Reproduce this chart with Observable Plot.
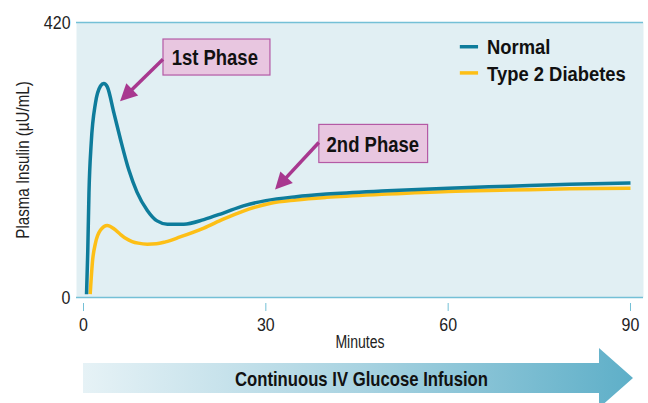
<!DOCTYPE html>
<html><head><meta charset="utf-8">
<script src="https://cdn.jsdelivr.net/npm/d3@7"></script>
<script src="https://cdn.jsdelivr.net/npm/@observablehq/plot@0.6"></script>
<style>body{margin:0;background:#fff;} svg{display:block}</style>
</head><body><div id="chart"></div>
<script>
// ---- data ----
const seriesNames = ["Normal", "Type 2 Diabetes"];
const normalMinutes = [0.5, 0.7, 0.9, 1.27, 1.97, 2.8, 3.34, 3.9, 5.0, 6.1, 7.45, 8.8, 10.5, 12.1, 13.8, 16.5, 19.8, 23, 26.3, 30, 35, 40, 50, 60, 70, 80, 90];
const normalInsulin = [5, 70, 160, 236, 297, 323, 327, 322, 282, 241, 195, 161, 133, 117, 112, 112, 119, 129, 140, 148, 154, 158, 163, 167, 170, 173, 175];
const t2dMinutes = [1.1, 1.5, 1.97, 2.8, 3.9, 5.0, 6.0, 7.0, 8.0, 9.0, 10.5, 12, 13.5, 15.9, 19.8, 23, 26.3, 30.8, 35, 40, 50, 60, 70, 80, 90];
const t2dInsulin = [5, 57, 83, 103, 110, 105, 97, 90, 85.5, 83, 81.5, 82, 85, 92.5, 106, 119.6, 132, 144, 149, 153, 158, 162, 164, 166, 167];
const xTicks = [0, 30, 60, 90];
const yTicks = [0, 420];
const phaseLabels = ["1st Phase", "2nd Phase"];
const infusionLabel = "Continuous IV Glucose Infusion";
const xLabel = "Minutes";
const yLabel = "Plasma Insulin (\u00b5U/mL)";

// ---- layout / styles ----
const TEAL = "#0e7c9b", GOLD = "#fdbf16", AXIS = "#74c0d6", BG = "#e1eff3";
const MAG = "#a8388f", BOXFILL = "#e8c6e0", BOXSTROKE = "#b45aa5";
const FONT = "'Liberation Sans Narrow', 'Arial Narrow', 'Liberation Sans', sans-serif";

const normal = normalMinutes.map((t, i) => ({t, v: normalInsulin[i], s: seriesNames[0]}));
const t2d = t2dMinutes.map((t, i) => ({t, v: t2dInsulin[i], s: seriesNames[1]}));

// annotation placement in data coordinates
const boxes = [
  {label: phaseLabels[0], x1: 13.16, x2: 30.76, y1: 339, y2: 394, tx: 21.6, ty: 366, ax1: 13.16, ay1: 363, ax2: 6.1, ay2: 299},
  {label: phaseLabels[1], x1: 38.8, x2: 56.7, y1: 205.4, y2: 263.6, tx: 47.6, ty: 233, ax1: 38.8, ay1: 236, ax2: 31.6, ay2: 164}
];
const legend = [
  {label: seriesNames[0], color: TEAL, y: 383, ty: 381},
  {label: seriesNames[1], color: GOLD, y: 343, ty: 340}
];

const plot = Plot.plot({
  width: 648, height: 403,
  marginLeft: 76, marginRight: 5, marginTop: 22, marginBottom: 106,
  style: {fontFamily: FONT, fontSize: "19px", color: "#222", background: "#fff"},
  x: {domain: [-1.152, 92.14]},
  y: {domain: [0, 420]},
  marks: [
    Plot.frame({fill: BG, stroke: null}),
    Plot.ruleY(yTicks, {stroke: AXIS, strokeWidth: 1.5}),
    Plot.axisY({ticks: yTicks, tickSize: 0, tickPadding: 6, label: null, fontSize: 19}),
    Plot.axisX({ticks: xTicks, tickSize: 8, tickPadding: 6, dy: 6, stroke: AXIS, label: null, fontSize: 19}),
    Plot.text([yLabel], {frameAnchor: "left", dx: -53, rotate: -90, textAnchor: "middle", lineAnchor: "middle", fontSize: 18, text: d => d}),
    Plot.text([xLabel], {frameAnchor: "bottom", dy: 45, textAnchor: "middle", lineAnchor: "middle", fontSize: 18, text: d => d}),
    Plot.line(t2d, {x: "t", y: "v", stroke: GOLD, strokeWidth: 3.5, curve: "monotone-x", strokeLinecap: "butt"}),
    Plot.line(normal, {x: "t", y: "v", stroke: TEAL, strokeWidth: 3.5, curve: "monotone-x", strokeLinecap: "butt"}),
    Plot.rect(boxes, {x1: "x1", x2: "x2", y1: "y1", y2: "y2", fill: BOXFILL, stroke: BOXSTROKE, strokeWidth: 1.2}),
    Plot.text(boxes, {x: "tx", y: "ty", text: "label", fontWeight: "bold", fontSize: 22, fill: "#111"}),
    Plot.ruleY(legend, {x1: 62.0, x2: 65.0, y: "y", stroke: "color", strokeWidth: 3.5}),
    Plot.text(legend, {x: 66.4, y: "ty", text: "label", textAnchor: "start", fontWeight: "bold", fontSize: 20, fill: "#111"})
  ]
});

document.getElementById("chart").appendChild(plot);

const svg = d3.select(plot);
const X = plot.scale("x").apply, Y = plot.scale("y").apply;

// condense all text horizontally (the original uses a condensed face)
svg.selectAll("text").each(function () {
  if (this.querySelector("tspan")) return;
  const L = this.getComputedTextLength();
  const t = this.textContent;
  const f = t === xLabel ? 0.78 : seriesNames.includes(t) ? 0.92 : 0.84;
  this.setAttribute("textLength", L * f);
  this.setAttribute("lengthAdjust", "spacingAndGlyphs");
});

// phase arrows
const ag = svg.append("g");
for (const b of boxes) {
  const x1 = X(b.ax1), y1 = Y(b.ay1), x2 = X(b.ax2), y2 = Y(b.ay2);
  const dx = x2 - x1, dy = y2 - y1, L = Math.hypot(dx, dy), ux = dx / L, uy = dy / L;
  const hl = 17, hw = 8.5;
  const bx = x2 - ux * hl, by = y2 - uy * hl;
  ag.append("line").attr("x1", x1).attr("y1", y1).attr("x2", bx + ux * 2).attr("y2", by + uy * 2)
    .attr("stroke", MAG).attr("stroke-width", 3.5);
  ag.append("path").attr("d", `M${x2},${y2}L${bx - uy * hw},${by + ux * hw}L${bx + uy * hw},${by - ux * hw}Z`)
    .attr("fill", MAG);
}

// infusion arrow
const x0 = X(0), tip = X(90) + 3, hx = tip - 34, cy = 378;
const defs = svg.append("defs");
const grad = defs.append("linearGradient").attr("id", "ivgrad").attr("gradientUnits", "userSpaceOnUse")
  .attr("x1", x0).attr("x2", tip).attr("y1", 0).attr("y2", 0);
grad.append("stop").attr("offset", 0).attr("stop-color", "#e6f2f6");
grad.append("stop").attr("offset", 0.5).attr("stop-color", "#a9d3e1");
grad.append("stop").attr("offset", 1).attr("stop-color", "#5eafc8");
svg.append("path")
  .attr("d", `M${x0},${cy - 15}L${hx},${cy - 15}L${hx},${cy - 30}L${tip},${cy}L${hx},${cy + 30}L${hx},${cy + 15}L${x0},${cy + 15}Z`)
  .attr("fill", "url(#ivgrad)");
svg.append("text").attr("x", 361.5).attr("y", cy).attr("dy", "0.36em").attr("text-anchor", "middle")
  .attr("font-family", FONT).attr("font-weight", "bold").attr("font-size", 21).attr("fill", "#111")
  .attr("textLength", 253).attr("lengthAdjust", "spacingAndGlyphs")
  .text(infusionLabel);
</script></body></html>
